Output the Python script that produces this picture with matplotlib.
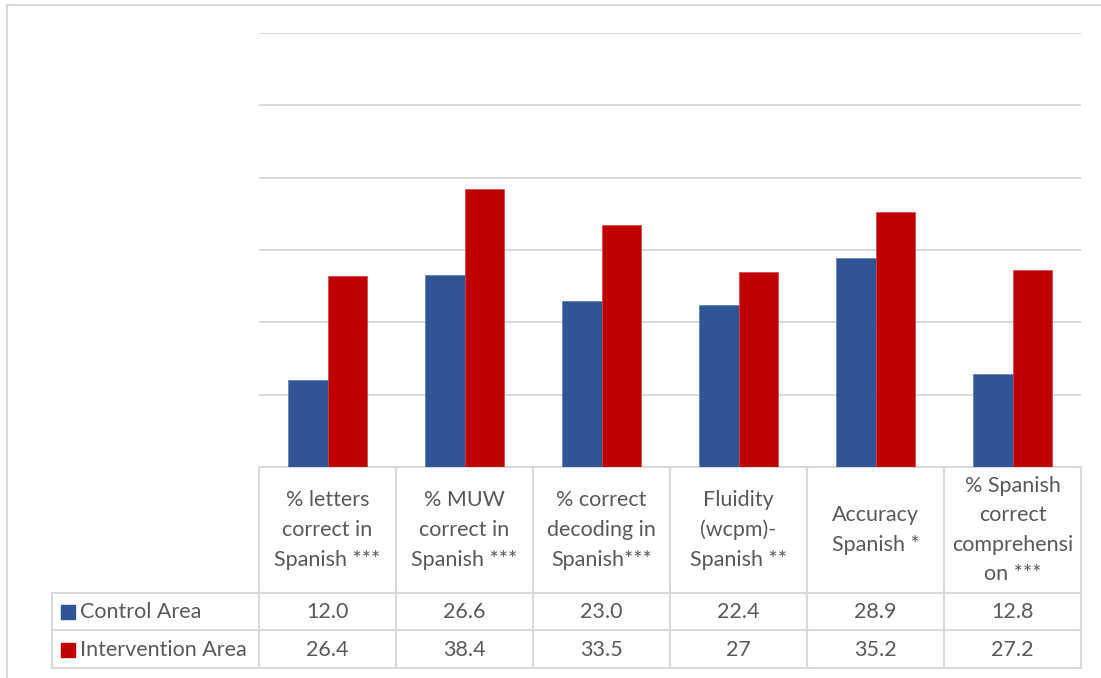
import matplotlib
matplotlib.use("Agg")
import matplotlib.pyplot as plt
from matplotlib.patches import Rectangle

plt.rcParams['font.family'] = ['Lato', 'DejaVu Sans']

categories = [
    "% letters\ncorrect in\nSpanish ***",
    "% MUW\ncorrect in\nSpanish ***",
    "% correct\ndecoding in\nSpanish***",
    "Fluidity\n(wcpm)-\nSpanish **",
    "Accuracy\nSpanish *",
    "% Spanish\ncorrect\ncomprehensi\non ***",
]
series_names = ["Control Area", "Intervention Area"]
control = [12.0, 26.6, 23.0, 22.4, 28.9, 12.8]
intervention = [26.4, 38.4, 33.5, 27, 35.2, 27.2]
control_labels = ["12.0", "26.6", "23.0", "22.4", "28.9", "12.8"]
intervention_labels = ["26.4", "38.4", "33.5", "27", "35.2", "27.2"]

BLUE = "#2F5597"
RED = "#C00000"
GRID = "#D9D9D9"
TEXT = "#595959"

W, H = 1101, 678
fig = plt.figure(figsize=(W / 100, H / 100), dpi=100)

# plot area in pixel units
px_left, px_right, px_top, px_base = 259, 1081, 33, 467
ax = fig.add_axes([px_left / W, (H - px_base) / H,
                   (px_right - px_left) / W, (px_base - px_top) / H])
n = len(categories)
bw = 0.288
xs = list(range(n))
ax.bar([x - bw / 2 for x in xs], control, width=bw, color=BLUE,
       edgecolor="#5A7BB5", linewidth=0.5, zorder=3)
ax.bar([x + bw / 2 for x in xs], intervention, width=bw, color=RED,
       edgecolor="#D04040", linewidth=0.5, zorder=3)
ax.set_xlim(-0.5, n - 0.5)
ax.set_ylim(0, 60)
ax.set_yticks(range(0, 61, 10))
ax.yaxis.grid(True, color=GRID, linewidth=1.4, zorder=0)
ax.tick_params(left=False, bottom=False, labelleft=False, labelbottom=False)
for s in ax.spines.values():
    s.set_visible(False)
ax.set_facecolor("none")

# overlay in pixel coordinates for the frame and data table
ov = fig.add_axes([0, 0, 1, 1], zorder=-1)
ov.set_xlim(0, W)
ov.set_ylim(H, 0)
ov.axis("off")

lw = 1.5
# chart frame
ov.plot([7, 7], [5, H], color=GRID, lw=lw)
ov.plot([7, W], [5, 5], color=GRID, lw=lw)

col_w = (px_right - px_left) / n
edges = [px_left + i * col_w for i in range(n + 1)]
row_top, row1, row2, row_bot = 467, 593, 630, 668
lab_left = 52

for y in (row1, row2, row_bot):
    ov.plot([lab_left, px_right], [y, y], color=GRID, lw=lw)
ov.plot([px_left, px_right], [row_top, row_top], color=GRID, lw=lw)
ov.plot([lab_left, lab_left], [row1, row_bot], color=GRID, lw=lw)
for x in edges:
    ov.plot([x, x], [row_top, row_bot], color=GRID, lw=lw)

fs = 15.5
for i, cat in enumerate(categories):
    cx = (edges[i] + edges[i + 1]) / 2
    ov.text(cx, (row_top + row1) / 2, cat, ha="center", va="center",
            fontsize=fs, color=TEXT, linespacing=1.6)
    ov.text(cx, (row1 + row2) / 2 + 1, control_labels[i], ha="center",
            va="center", fontsize=fs, color=TEXT)
    ov.text(cx, (row2 + row_bot) / 2 + 1, intervention_labels[i], ha="center",
            va="center", fontsize=fs, color=TEXT)

for (y0, y1), name, col in zip([(row1, row2), (row2, row_bot)], series_names,
                               [BLUE, RED]):
    yc = (y0 + y1) / 2
    ov.add_patch(Rectangle((61, yc - 6.5), 14, 14, color=col))
    ov.text(80, yc + 1, name, ha="left", va="center", fontsize=fs, color=TEXT)

fig.savefig("out.png", dpi=100, facecolor="white")
